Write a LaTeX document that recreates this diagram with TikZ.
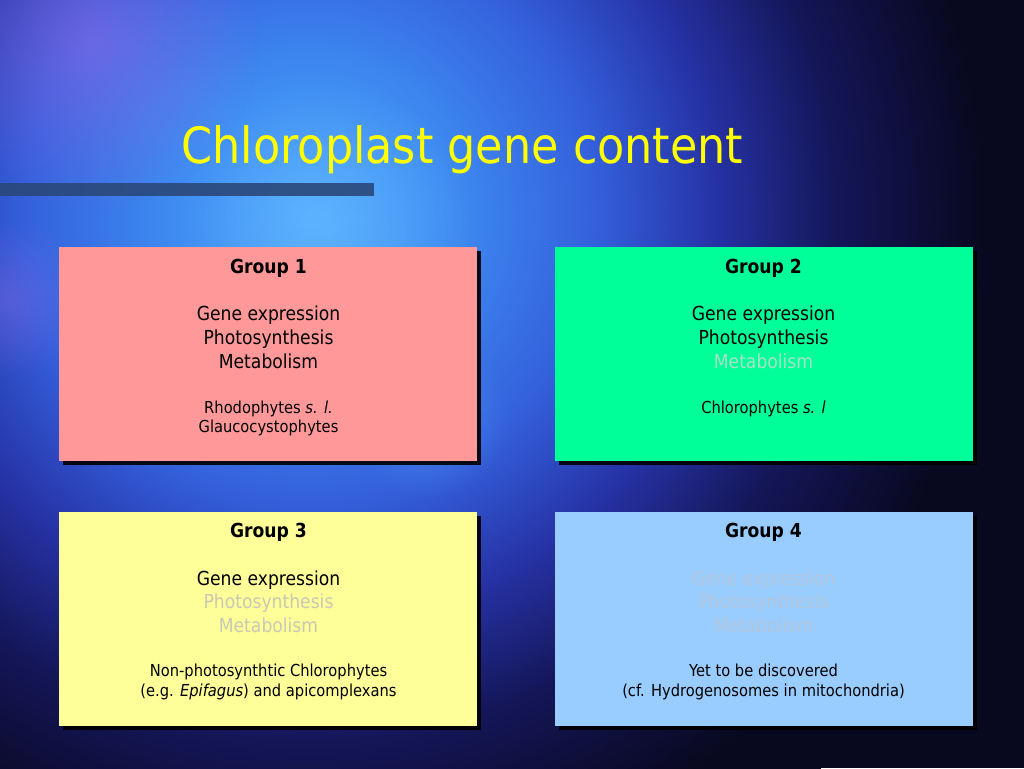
\documentclass[tikz,border=0pt]{standalone}
\usepackage{fontspec}
\setmainfont{DejaVu Sans}[FakeStretch=0.89]
\usetikzlibrary{shadows,fadings}
\definecolor{bgA}{RGB}{85,170,255}
\definecolor{bgB}{RGB}{62,140,242}
\definecolor{bgC}{RGB}{52,96,220}
\definecolor{bgD}{RGB}{38,50,165}
\definecolor{bgE}{RGB}{20,22,88}
\definecolor{bgF}{RGB}{8,8,30}
\definecolor{blobpurple}{RGB}{170,110,235}
\definecolor{blobcyan}{RGB}{110,200,255}
\definecolor{barcol}{RGB}{42,72,122}
\definecolor{titleyellow}{RGB}{255,255,0}
\definecolor{fillone}{RGB}{255,153,153}
\definecolor{filltwo}{RGB}{0,255,153}
\definecolor{fillthree}{RGB}{255,255,153}
\definecolor{fillfour}{RGB}{153,204,255}
\definecolor{fadetwo}{RGB}{168,226,200}
\definecolor{fadethree}{RGB}{200,200,182}
\definecolor{fadefour}{RGB}{178,198,220}
\pgfdeclareradialshading{bgshade}{\pgfpoint{0bp}{0bp}}{color(0bp)=(bgA); color(9bp)=(bgB); color(19bp)=(bgC); color(27bp)=(bgD); color(35bp)=(bgE); color(45bp)=(bgF); color(50bp)=(bgF)}
\tikzfading[name=softblob, inner color=transparent!0, outer color=transparent!100]
\tikzset{
  groupbox/.style={draw=none, minimum width=418pt, minimum height=214pt, anchor=north west, inner sep=0pt,
    general shadow={fill=black, opacity=0.9, shadow xshift=4pt, shadow yshift=-4pt}},
  boxtext/.style={anchor=base, inner sep=0pt, text=black},
  headtext/.style={boxtext, font=\bfseries\fontsize{19.3pt}{23pt}\selectfont},
  maintext/.style={boxtext, font=\fontsize{19.3pt}{23pt}\selectfont},
  smalltext/.style={boxtext, font=\fontsize{16.5pt}{19pt}\selectfont},
}
\begin{document}
\begin{tikzpicture}[x=1pt,y=-1pt]
\useasboundingbox (0,0) rectangle (1024,768);
% background
\begin{scope}
\clip (0,0) rectangle (1024,768);
\fill[bgF] (0,0) rectangle (1024,768);
\begin{pgfscope}
\pgftransformshift{\pgfpointxy{310}{215}}
\pgftransformscale{15}
\pgflowlevelsynccm
\pgfuseshading{bgshade}
\end{pgfscope}
\fill[blobpurple, opacity=0.45, path fading=softblob] (90,40) circle (170);
\fill[blobpurple, opacity=0.3, path fading=softblob] (10,300) circle (80);
\fill[blobcyan, opacity=0.35, path fading=softblob] (330,230) circle (150);
\fill[blobcyan, opacity=0.25, path fading=softblob] (430,420) circle (80);
\end{scope}
% title
\node[anchor=base, inner sep=0pt, text=titleyellow, font=\fontsize{50pt}{60pt}\selectfont] (title) at (462.5,163) {Chloroplast gene content};
% bar
\fill[barcol, opacity=0.9] (0,183) rectangle (374,196);
% boxes
\node[groupbox, fill=fillone] (b1) at (59,247) {};
\node[groupbox, fill=filltwo] (b2) at (555,247) {};
\node[groupbox, fill=fillthree] (b3) at (59,512) {};
\node[groupbox, fill=fillfour] (b4) at (555,512) {};
% group 1
\node[headtext] (g1h) at (268.5,273) {Group 1};
\node[maintext] (g1a) at (268.5,320.5) {Gene expression};
\node[maintext] (g1b) at (268.5,344.3) {Photosynthesis};
\node[maintext] (g1c) at (268.5,368.1) {Metabolism};
\node[smalltext] (g1d) at (268.5,413.3) {Rhodophytes \textit{s. l.}};
\node[smalltext] (g1e) at (268.5,432.7) {Glaucocystophytes};
% group 2
\node[headtext] (g2h) at (763.5,273) {Group 2};
\node[maintext] (g2a) at (763.5,320.5) {Gene expression};
\node[maintext] (g2b) at (763.5,344.3) {Photosynthesis};
\node[maintext, text=fadetwo] (g2c) at (763.5,368.1) {Metabolism};
\node[smalltext] (g2d) at (763.5,413.3) {Chlorophytes \textit{s. l}};
% group 3
\node[headtext] (g3h) at (268.5,537.3) {Group 3};
\node[maintext] (g3a) at (268.5,585) {Gene expression};
\node[maintext, text=fadethree] (g3b) at (268.5,608.5) {Photosynthesis};
\node[maintext, text=fadethree] (g3c) at (268.5,632.3) {Metabolism};
\node[smalltext] (g3d) at (268.5,676.7) {Non-photosynthtic Chlorophytes};
\node[smalltext] (g3e) at (268.5,696.7) {(e.g. \textit{Epifagus}) and apicomplexans};
% group 4
\node[headtext] (g4h) at (763.5,537.3) {Group 4};
\node[maintext, text=fadefour] (g4a) at (763.5,585) {Gene expression};
\node[maintext, text=fadefour] (g4b) at (763.5,608.5) {Photosynthesis};
\node[maintext, text=fadefour] (g4c) at (763.5,632.3) {Metabolism};
\node[smalltext] (g4d) at (763.5,676.7) {Yet to be discovered};
\node[smalltext] (g4e) at (763.5,696.7) {(cf. Hydrogenosomes in mitochondria)};
\end{tikzpicture}
\end{document}
